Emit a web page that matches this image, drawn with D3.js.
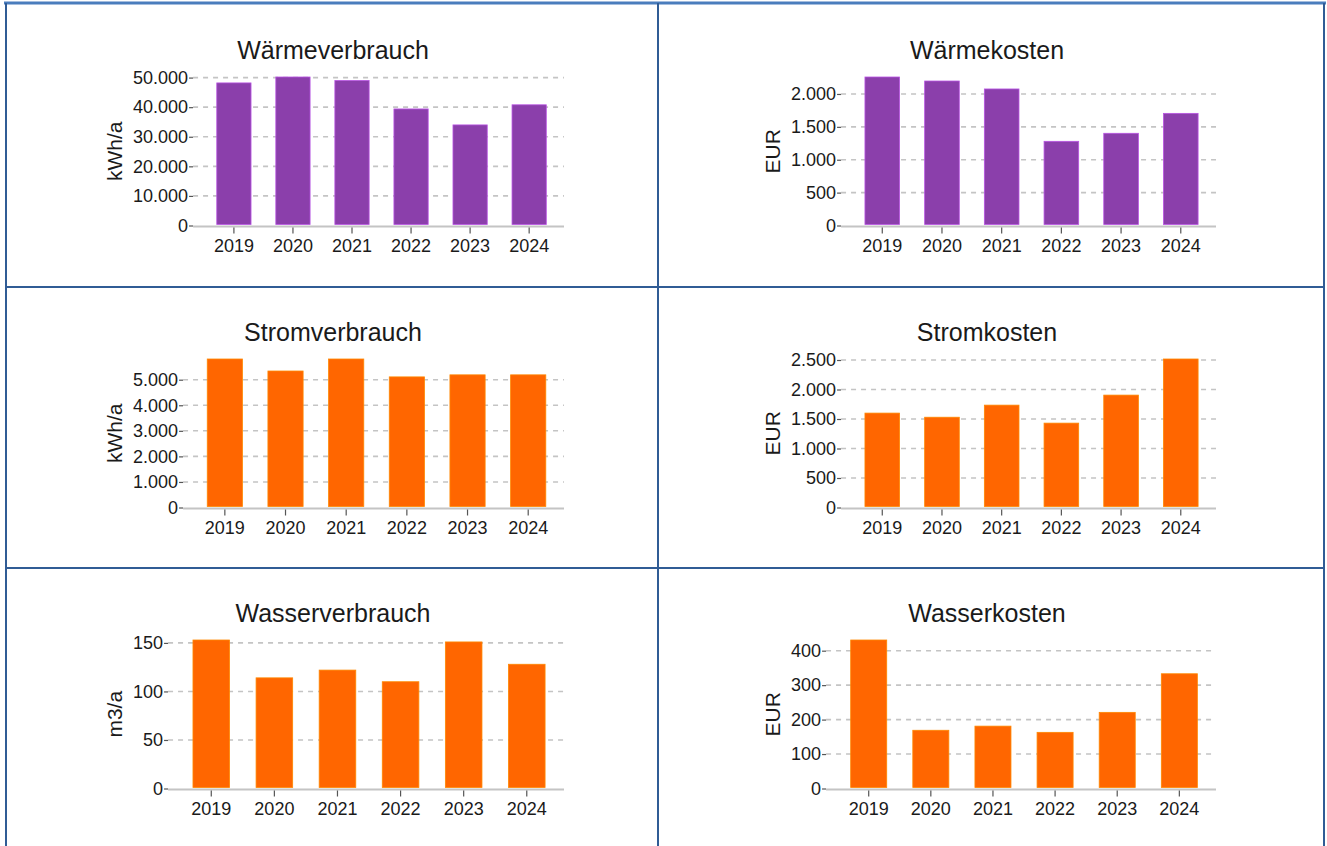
<!DOCTYPE html>
<html>
<head>
<meta charset="utf-8">
<script src="https://cdn.jsdelivr.net/npm/d3@7"></script>
<style>
    body { margin: 0; background: #fff; }
    svg { display: block; font-family: Arial, "Liberation Sans", sans-serif; }
</style>
</head>
<body>
<div id="chart"></div>
<script>
// Werte
const years = ["2019", "2020", "2021", "2022", "2023", "2024"];

const waermeverbrauch = [48200, 50200, 49000, 39400, 34000, 40800];
const waermekosten = [2258, 2197, 2076, 1280, 1402, 1705];
const stromverbrauch = [5810, 5340, 5810, 5110, 5190, 5190];
const stromkosten = [1600, 1530, 1735, 1430, 1905, 2517];
const wasserverbrauch = [153, 114, 122, 110, 151, 128];
const wasserkosten = [431, 169, 181, 163, 221, 333];

const ticksWaermeverbrauch = [0, 10000, 20000, 30000, 40000, 50000];
const ticksWaermekosten = [0, 500, 1000, 1500, 2000];
const ticksStromverbrauch = [0, 1000, 2000, 3000, 4000, 5000];
const ticksStromkosten = [0, 500, 1000, 1500, 2000, 2500];
const ticksWasserverbrauch = [0, 50, 100, 150];
const ticksWasserkosten = [0, 100, 200, 300, 400];

const purple = "#8b3fab";
const orange = "#ff6600";

const panels = [
    { title: "Wärmeverbrauch", unit: "kWh/a", values: waermeverbrauch, ticks: ticksWaermeverbrauch, color: purple, row: 0, col: 0 },
    { title: "Wärmekosten", unit: "EUR", values: waermekosten, ticks: ticksWaermekosten, color: purple, row: 0, col: 1 },
    { title: "Stromverbrauch", unit: "kWh/a", values: stromverbrauch, ticks: ticksStromverbrauch, color: orange, row: 1, col: 0 },
    { title: "Stromkosten", unit: "EUR", values: stromkosten, ticks: ticksStromkosten, color: orange, row: 1, col: 1 },
    { title: "Wasserverbrauch", unit: "m3/a", values: wasserverbrauch, ticks: ticksWasserverbrauch, color: orange, row: 2, col: 0 },
    { title: "Wasserkosten", unit: "EUR", values: wasserkosten, ticks: ticksWasserkosten, color: orange, row: 2, col: 1 }
];

const WIDTH = 1327, HEIGHT = 846;
const colX = [0, 658];
const plotRight = [564, 1216];
const titleX = [333, 987];
const unitX = [122, 780];
const rowY = [3, 285, 566];

const fmt = d3.formatLocale({ decimal: ",", thousands: ".", grouping: [3], currency: ["", ""] }).format(",");

const svg = d3.select("#chart")
    .append("svg")
    .attr("width", WIDTH)
    .attr("height", HEIGHT);

// Tabellenrahmen
const borderColor = "#305c95";
svg.append("line")
    .attr("x1", 4).attr("x2", 1326).attr("y1", 3).attr("y2", 3)
    .attr("stroke", "#4a7dbd").attr("stroke-width", 3);
[287, 568].forEach(y => {
    svg.append("line")
        .attr("x1", 5).attr("x2", 1325).attr("y1", y).attr("y2", y)
        .attr("stroke", borderColor).attr("stroke-width", 2);
});
[6, 658, 1324].forEach(x => {
    svg.append("line")
        .attr("x1", x).attr("x2", x).attr("y1", 3).attr("y2", HEIGHT)
        .attr("stroke", borderColor).attr("stroke-width", 2);
});

function textWidth(str, size) {
    const t = svg.append("text").attr("font-size", size).text(str);
    const w = t.node().getComputedTextLength();
    t.remove();
    return w;
}

function drawPanel(p) {
    const x0 = colX[p.col];
    const top = rowY[p.row] + 74;
    const bottom = rowY[p.row] + 222.5;

    // linke Kante des Diagramms hängt an der Breite der Achsenbeschriftung
    const labelW = d3.max(p.ticks, t => textWidth(fmt(t), 18));
    const left = x0 + 134 + labelW + 4;
    const right = plotRight[p.col];

    const g = svg.append("g");

    const x = d3.scaleBand()
        .domain(years)
        .range([left + 6, right])
        .paddingInner(0.42)
        .paddingOuter(0.3);

    const y = d3.scaleLinear()
        .domain([0, d3.max(p.values)])
        .range([bottom, top]);

    // Titel
    g.append("text")
        .attr("x", titleX[p.col])
        .attr("y", rowY[p.row] + 56)
        .attr("text-anchor", "middle")
        .attr("font-size", 25)
        .attr("fill", "#1a1a1a")
        .text(p.title);

    // Einheit
    g.append("text")
        .attr("transform", "translate(" + unitX[p.col] + "," + ((top + bottom) / 2) + ") rotate(-90)")
        .attr("text-anchor", "middle")
        .attr("font-size", 21)
        .attr("fill", "#1a1a1a")
        .text(p.unit);

    // Gitternetz
    g.selectAll(".grid")
        .data(p.ticks.filter(t => t > 0))
        .enter()
        .append("line")
        .attr("x1", left)
        .attr("x2", right)
        .attr("y1", d => y(d))
        .attr("y2", d => y(d))
        .attr("stroke", "#c4c4c4")
        .attr("stroke-width", 1.6)
        .attr("stroke-dasharray", "5,5");

    // y-Achse
    const yAxis = d3.axisLeft(y)
        .tickValues(p.ticks)
        .tickFormat(fmt)
        .tickSize(4)
        .tickPadding(1);

    const ya = g.append("g")
        .attr("transform", "translate(" + left + ",0)")
        .call(yAxis);
    ya.select(".domain").remove();
    ya.selectAll(".tick line").attr("stroke", "#555").attr("stroke-width", 1.2);
    ya.selectAll(".tick text")
        .attr("font-size", 18)
        .attr("font-family", "Arial, 'Liberation Sans', sans-serif")
        .attr("fill", "#1a1a1a");

    // Balken
    g.selectAll(".bar")
        .data(p.values)
        .enter()
        .append("rect")
        .attr("x", (d, i) => x(years[i]))
        .attr("y", d => y(d))
        .attr("width", x.bandwidth())
        .attr("height", d => y(0) - y(d) - 1)
        .attr("fill", p.color)
        .attr("stroke", d3.color(p.color).brighter(0.8))
        .attr("stroke-width", 0.8);

    // x-Achse
    g.append("line")
        .attr("x1", left)
        .attr("x2", right)
        .attr("y1", bottom + 1)
        .attr("y2", bottom + 1)
        .attr("stroke", "#c4c4c4")
        .attr("stroke-width", 2);

    const xAxis = d3.axisBottom(x).tickSize(6).tickPadding(6);
    const xa = g.append("g")
        .attr("transform", "translate(0," + (bottom + 2) + ")")
        .call(xAxis);
    xa.select(".domain").remove();
    xa.selectAll(".tick line").attr("stroke", "#555").attr("stroke-width", 1.2);
    xa.selectAll(".tick text")
        .attr("font-size", 18)
        .attr("font-family", "Arial, 'Liberation Sans', sans-serif")
        .attr("fill", "#1a1a1a");
}

panels.forEach(drawPanel);
</script>
</body>
</html>
